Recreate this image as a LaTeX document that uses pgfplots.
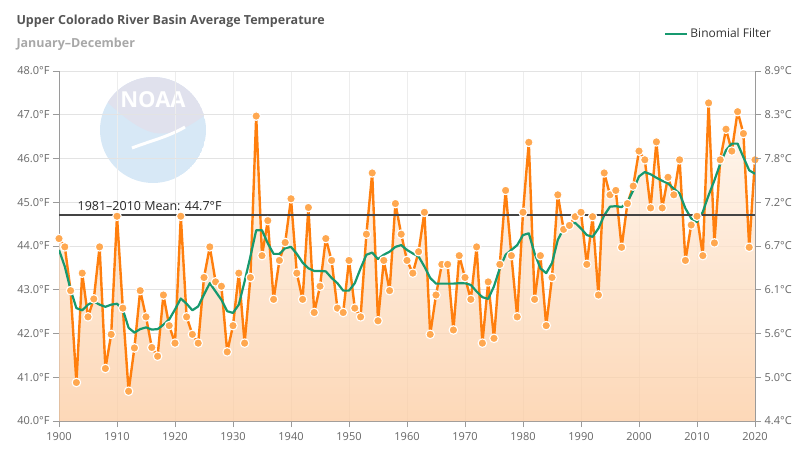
\documentclass[border=0pt]{standalone}
\usepackage{fontspec}
\setmainfont{Open Sans}
\usepackage{pgfplots}
\pgfplotsset{compat=1.18}
\usepackage{pgfplotstable}

\definecolor{templine}{HTML}{FF7F0E}
\definecolor{tempmark}{HTML}{FFA850}
\definecolor{filterline}{HTML}{17996F}
\definecolor{areatop}{HTML}{FFF4EA}
\definecolor{areabot}{HTML}{FCCBA0}
\definecolor{gridc}{HTML}{E3E3E3}
\definecolor{vgridc}{HTML}{EDEDED}
\definecolor{axisc}{HTML}{9A9A9A}
\definecolor{tickc}{HTML}{666666}
\definecolor{titlec}{HTML}{555555}
\definecolor{subc}{HTML}{A8A8A8}
\definecolor{meanc}{HTML}{444444}
\definecolor{logoblue}{HTML}{D7E8F6}
\definecolor{logolav}{HTML}{E0E1ED}

% Annual mean temperature (degF) and its binomial-filtered trend
\pgfplotstableread{
year temp filt
1900 44.17 43.91
1901 43.98 43.53
1902 42.98 43.00
1903 40.88 42.58
1904 43.38 42.53
1905 42.38 42.66
1906 42.79 42.73
1907 43.98 42.66
1908 41.20 42.61
1909 41.98 42.66
1910 44.68 42.68
1911 42.58 42.55
1912 40.68 42.13
1913 41.67 42.02
1914 42.98 42.10
1915 42.38 42.14
1916 41.68 42.09
1917 41.48 42.10
1918 42.88 42.20
1919 42.18 42.32
1920 41.78 42.55
1921 44.68 42.80
1922 42.38 42.68
1923 41.98 42.53
1924 41.78 42.62
1925 43.28 42.89
1926 43.98 43.15
1927 43.18 42.96
1928 43.08 42.77
1929 41.58 42.51
1930 42.18 42.47
1931 43.38 42.66
1932 41.78 43.19
1933 43.28 43.76
1934 46.97 44.36
1935 43.78 44.36
1936 44.58 44.06
1937 42.78 43.82
1938 43.67 43.82
1939 44.08 43.95
1940 45.08 43.98
1941 43.38 43.82
1942 42.78 43.62
1943 44.88 43.49
1944 42.48 43.43
1945 43.08 43.43
1946 44.17 43.42
1947 43.67 43.27
1948 42.58 43.15
1949 42.48 42.98
1950 43.67 42.98
1951 42.58 43.15
1952 42.38 43.49
1953 44.27 43.80
1954 45.67 43.85
1955 42.29 43.70
1956 43.67 43.80
1957 42.98 43.87
1958 44.97 43.98
1959 44.27 44.02
1960 43.67 43.91
1961 43.38 43.83
1962 43.87 43.76
1963 44.77 43.53
1964 41.98 43.27
1965 42.88 43.14
1966 43.58 43.14
1967 43.58 43.14
1968 42.08 43.14
1969 43.78 43.15
1970 43.28 43.15
1971 42.78 43.11
1972 43.98 42.96
1973 41.78 42.83
1974 43.18 42.79
1975 41.89 43.08
1976 43.58 43.49
1977 45.27 43.80
1978 43.78 43.91
1979 42.38 44.02
1980 44.77 44.25
1981 46.37 44.29
1982 42.78 43.83
1983 43.78 43.49
1984 42.18 43.38
1985 43.28 43.61
1986 45.17 44.14
1987 44.38 44.40
1988 44.47 44.48
1989 44.67 44.53
1990 44.77 44.40
1991 43.58 44.25
1992 44.67 44.21
1993 42.88 44.40
1994 45.67 44.70
1995 45.17 44.90
1996 45.27 44.91
1997 43.97 44.89
1998 44.97 45.00
1999 45.37 45.27
2000 46.17 45.59
2001 45.97 45.69
2002 44.87 45.64
2003 46.38 45.56
2004 44.87 45.49
2005 45.57 45.43
2006 45.17 45.31
2007 45.97 45.20
2008 43.67 44.86
2009 44.48 44.63
2010 44.68 44.55
2011 43.78 44.78
2012 47.27 45.16
2013 44.07 45.50
2014 45.97 45.88
2015 46.67 46.19
2016 46.17 46.34
2017 47.07 46.34
2018 46.57 46.03
2019 43.97 45.73
2020 45.97 45.65
}\temps

\begin{document}
\begin{tikzpicture}
\useasboundingbox (0pt,0pt) rectangle (800pt,459pt);

% faded NOAA emblem behind the plot
\begin{scope}[x=1pt,y=1pt]
  \clip (153,329) circle (53);
  \fill[logoblue] (153,329) circle (53);
  \fill[logolav] (95,390) -- (95,368) .. controls (115,350) and (135,330) .. (155,326)
        .. controls (175,323) and (195,335) .. (212,350) -- (212,390) -- cycle;
  \draw[white, line width=3] (132,311) .. controls (150,318) and (168,322) .. (185,332);
\end{scope}
\node[white, font=\bfseries\fontsize{22}{24}\selectfont] at (153pt,359pt) {NOAA};

\begin{axis}[
  at={(59pt,38pt)}, anchor=south west,
  scale only axis, width=696pt, height=350pt,
  xmin=1900, xmax=2020, ymin=40, ymax=48,
  axis x line*=bottom, axis y line*=left,
  axis line style={axisc, line width=0.8pt, -},
  xtick={1900,1910,...,2020}, ytick={40,41,...,48},
  tick style={axisc, line width=0.8pt}, tick align=outside, major tick length=6pt,
  xmajorgrids, ymajorgrids,
  x grid style={vgridc, line width=0.8pt},
  y grid style={gridc, line width=0.8pt},
  /pgf/number format/assume math mode=true,
  xticklabel style={/pgf/number format/1000 sep={}, yshift=-2pt},
  yticklabel={\pgfmathprintnumber[fixed,fixed zerofill,precision=1]{\tick}°F},
  ticklabel style={font=\fontsize{11}{13}\selectfont, text=tickc},
  legend style={at={(0.865,1.106)}, anchor=west, draw=none, fill=none,
    font=\fontsize{12}{14}\selectfont, text=black!80},
  legend image code/.code={\draw[#1] (0pt,0pt) -- (22pt,0pt);},
]
\addplot[draw=none, shade, top color=areatop, bottom color=areabot,
  fill opacity=0.75, forget plot] table[x=year,y=temp]{\temps} \closedcycle;
\addplot[templine, line width=2.4pt, line join=round, mark=*, mark size=4.3pt,
  mark options={fill=tempmark, draw=white, line width=1.1pt}, forget plot]
  table[x=year,y=temp]{\temps};
\addplot[filterline, line width=2.2pt, line join=round] table[x=year,y=filt]{\temps};
\addlegendentry{Binomial Filter}
\addplot[meanc, line width=2pt, forget plot] coordinates {(1900,44.7) (2020,44.7)};
\node[anchor=base west, font=\fontsize{12.5}{14}\selectfont, text=black!85]
  at (axis cs:1902.6,44.82) {1981–2010 Mean: 44.7°F};
\end{axis}

\begin{axis}[
  at={(59pt,38pt)}, anchor=south west,
  scale only axis, width=696pt, height=350pt,
  xmin=1900, xmax=2020, ymin=40, ymax=48,
  axis x line=none, axis y line*=right,
  axis line style={axisc, line width=0.8pt, -},
  ytick={40,41,...,48},
  yticklabels={4.4°C,5.0°C,5.6°C,6.1°C,6.7°C,7.2°C,7.8°C,8.3°C,8.9°C},
  tick style={axisc, line width=0.8pt}, tick align=outside, major tick length=6pt,
  ticklabel style={font=\fontsize{11}{13}\selectfont, text=tickc},
]
\end{axis}

\node[anchor=base west, font=\bfseries\fontsize{12.5}{15}\selectfont, text=titlec]
  at (13pt,434pt) {Upper Colorado River Basin Average Temperature};
\node[anchor=base west, font=\bfseries\fontsize{12.5}{15}\selectfont, text=subc]
  at (13pt,411.5pt) {January–December};
\end{tikzpicture}
\end{document}
